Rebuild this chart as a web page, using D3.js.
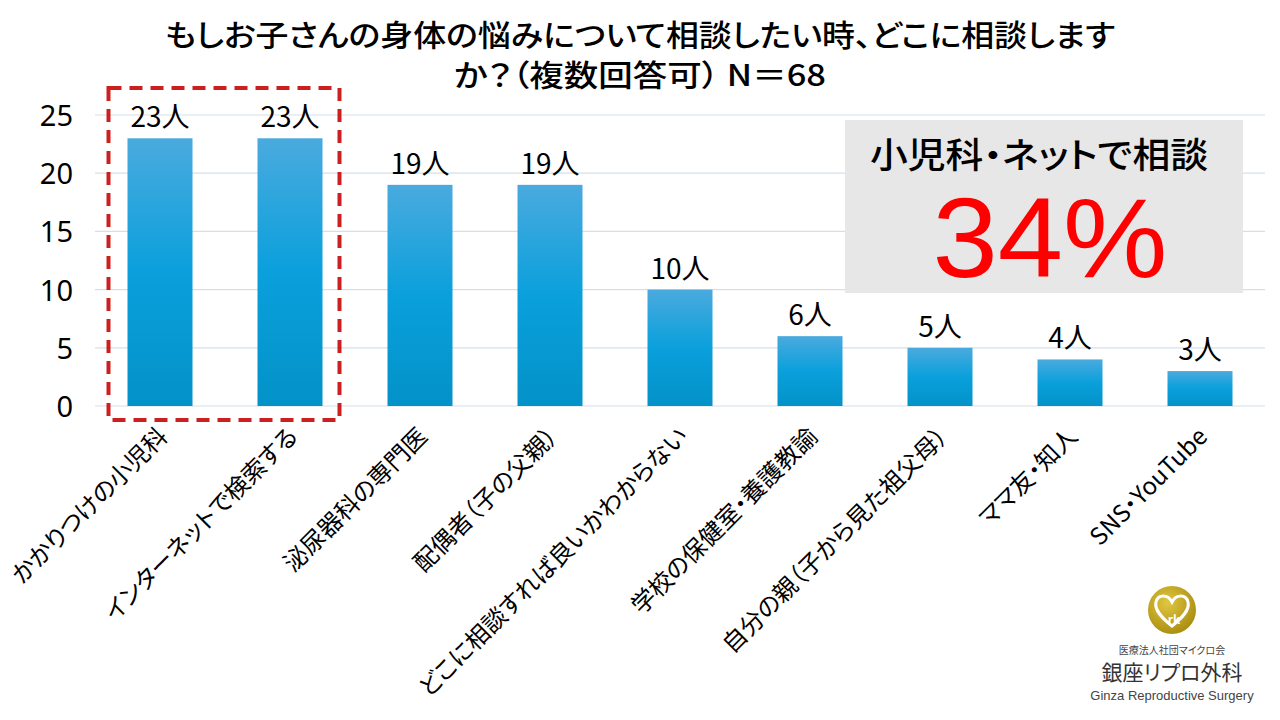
<!DOCTYPE html>
<html><head><meta charset="utf-8">
<script src="https://cdn.jsdelivr.net/npm/d3@7"></script>
<style>
html,body{margin:0;padding:0;background:#fff;}
svg{display:block;font-family:"Noto Sans CJK JP","Noto Sans",sans-serif;font-feature-settings:"palt";}
</style></head>
<body><svg id="c" width="1280" height="720"></svg>
<script>
const categories = ["かかりつけの小児科","インターネットで検索する","泌尿器科の専門医","配偶者（子の父親）","どこに相談すれば良いかわからない","学校の保健室・養護教諭","自分の親（子から見た祖父母）","ママ友・知人","SNS・YouTube"];
const values = [23,23,19,19,10,6,5,4,3];
const yTicks = [0,5,10,15,20,25];
const titleLines = ["もしお子さんの身体の悩みについて相談したい時、どこに相談します","か？（複数回答可） N＝68"];
const unit = "人";
const calloutTitle = "小児科・ネットで相談";
const calloutValue = "34%";

const svg = d3.select("#c");
const defs = svg.append("defs");
const g1 = defs.append("linearGradient").attr("id","barG").attr("x1",0).attr("y1",0).attr("x2",0).attr("y2",1);
g1.append("stop").attr("offset","0%").attr("stop-color","#4aaade");
g1.append("stop").attr("offset","50%").attr("stop-color","#0aa0dc");
g1.append("stop").attr("offset","100%").attr("stop-color","#0392c8");
const g2 = defs.append("radialGradient").attr("id","goldG").attr("cx","40%").attr("cy","35%").attr("r","70%");
g2.append("stop").attr("offset","0%").attr("stop-color","#e0c640");
g2.append("stop").attr("offset","100%").attr("stop-color","#a88c10");

const x = d3.scaleBand().domain(categories).range([95,1265]).paddingInner(0.5).paddingOuter(0.25);
const y = d3.scaleLinear().domain([0,25]).range([406,115]);

// title
const titleWidths = [950, 372];
svg.append("g").selectAll("text").data(titleLines).join("text")
  .attr("x",640).attr("y",(d,i)=>46+i*40)
  .attr("text-anchor","middle").attr("font-size",30).attr("font-weight",500).attr("fill","#000")
  .attr("textLength",(d,i)=>titleWidths[i]).attr("lengthAdjust","spacingAndGlyphs")
  .text(d=>d);

// gridlines
svg.append("g").selectAll("line").data(yTicks).join("line")
  .attr("x1",95).attr("x2",1265).attr("y1",d=>y(d)).attr("y2",d=>y(d))
  .attr("stroke","#d6dfe8").attr("stroke-width",1.2);

// y axis labels
const yAxis = d3.axisLeft(y).tickValues(yTicks).tickSize(0).tickPadding(0);
const ya = svg.append("g").attr("transform","translate(73,0)").call(yAxis);
ya.select(".domain").remove();
ya.selectAll("text").attr("font-size",29).attr("fill","#000").attr("font-family","'Noto Sans',sans-serif").attr("dy","0.36em");

// bars
svg.append("g").selectAll("rect").data(values).join("rect")
  .attr("x",(d,i)=>x(categories[i])).attr("width",x.bandwidth())
  .attr("y",d=>y(d)).attr("height",d=>y(0)-y(d))
  .attr("fill","url(#barG)");

// value labels
svg.append("g").selectAll("text").data(values).join("text")
  .attr("x",(d,i)=>x(categories[i])+x.bandwidth()/2).attr("y",d=>y(d)-11)
  .attr("text-anchor","middle").attr("font-size",28).attr("fill","#000")
  .text(d=>d+unit);

// x labels
svg.append("g").selectAll("text").data(categories).join("text")
  .attr("transform",d=>`translate(${x(d)+x.bandwidth()/2+9},438) rotate(-45)`)
  .attr("text-anchor","end").attr("font-size",24).attr("fill","#000")
  .text(d=>d);

// dashed highlight
svg.append("rect")
  .attr("x",x(categories[0])-19).attr("y",y(25)-27)
  .attr("width",(x(categories[1])+x.bandwidth()+17)-(x(categories[0])-19))
  .attr("height",(y(0)+14)-(y(25)-27))
  .attr("fill","none").attr("stroke","#cc2020").attr("stroke-width",4).attr("stroke-dasharray","13,8");

// callout
svg.append("rect").attr("x",845).attr("y",120).attr("width",398).attr("height",173).attr("fill","#e7e7e7");
svg.append("text").attr("x",1039).attr("y",168).attr("text-anchor","middle")
  .attr("font-size",35).attr("font-weight",500).attr("fill","#000")
  .attr("textLength",338).attr("lengthAdjust","spacingAndGlyphs").text(calloutTitle);
svg.append("text").attr("x",1050).attr("y",277).attr("text-anchor","middle")
  .attr("font-family","'Liberation Sans',sans-serif")
  .attr("font-size",113).attr("fill","#ff0000").attr("textLength",235).attr("lengthAdjust","spacingAndGlyphs").text(calloutValue);

// logo
const lg = svg.append("g").attr("transform","translate(1172,610)");
lg.append("circle").attr("r",24).attr("fill","url(#goldG)");
lg.append("path").attr("d","M0,16 C-10,8 -18,0 -16,-8 C-14,-16 -4,-16 0,-8 C4,-16 14,-16 16,-8 C18,0 10,8 0,16 Z")
  .attr("fill","none").attr("stroke","#fff").attr("stroke-width",3);
lg.append("text").attr("x",2).attr("y",14).attr("text-anchor","middle").attr("font-size",12).attr("font-weight",700).attr("fill","#fff").text("rk");
svg.append("text").attr("x",1172).attr("y",654).attr("text-anchor","middle").attr("font-size",10).attr("fill","#444").text("医療法人社団マイクロ会");
svg.append("text").attr("x",1172).attr("y",680).attr("text-anchor","middle").attr("font-size",21).attr("fill","#333").text("銀座リプロ外科");
svg.append("text").attr("x",1172).attr("y",700).attr("text-anchor","middle").attr("font-size",13).attr("fill","#444")
  .attr("font-family","'Liberation Sans Narrow','Liberation Sans',sans-serif").text("Ginza Reproductive Surgery");
</script></body></html>
